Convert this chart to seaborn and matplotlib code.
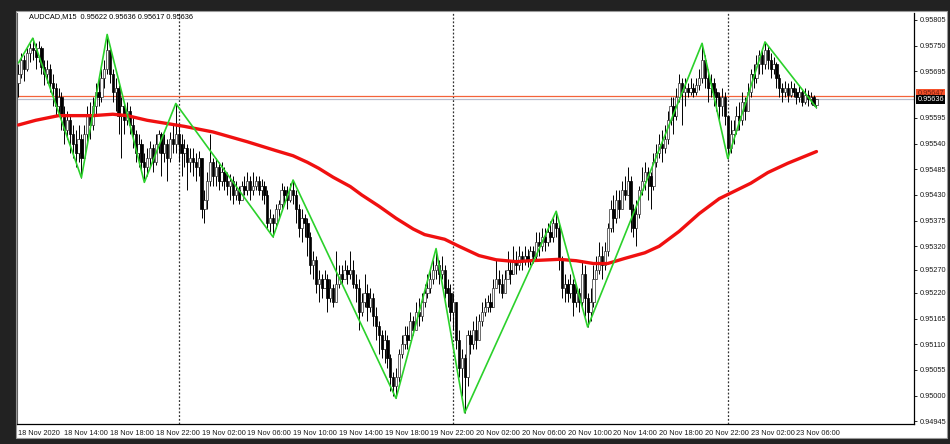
import numpy as np
import pandas as pd
import matplotlib
matplotlib.use("Agg")
import matplotlib.pyplot as plt
from matplotlib.patches import Rectangle
from matplotlib.transforms import blended_transform_factory
import seaborn as sns

# AUDCAD M15 bars, prices in points (1e-5). open of each bar = previous close
first_open = 95670
closes = [
    95690, 95720, 95700, 95735, 95745, 95740, 95725, 95745, 95705, 95690,
    95700, 95670, 95660, 95620, 95640, 95600, 95570, 95590, 95560, 95540,
    95520, 95550, 95510, 95560, 95600, 95580, 95620, 95650, 95640, 95680,
    95700, 95740, 95690, 95650, 95660, 95600, 95620, 95590, 95610, 95580,
    95560, 95520, 95540, 95500, 95490, 95510, 95530, 95500, 95540, 95560,
    95520, 95540, 95510, 95550, 95540, 95560, 95540, 95520, 95530, 95500,
    95510, 95500, 95490, 95510, 95400, 95420, 95460, 95500, 95470, 95490,
    95460, 95480, 95460, 95450, 95460, 95430, 95440, 95420, 95450, 95440,
    95460, 95440, 95450, 95460, 95440, 95450, 95430, 95370, 95380, 95370,
    95400, 95410, 95440, 95430, 95420, 95440, 95430, 95400, 95360, 95380,
    95370, 95340, 95280, 95290, 95240, 95250, 95230, 95250, 95210, 95230,
    95200, 95240, 95260, 95250, 95270, 95260, 95270, 95240, 95230, 95180,
    95200, 95220, 95190, 95210, 95170, 95150, 95130, 95100, 95120, 95080,
    95040, 95020, 95040, 95090, 95110, 95130, 95120, 95160, 95140, 95180,
    95170, 95200, 95220, 95230, 95250, 95270, 95280, 95260, 95270, 95230,
    95220, 95180, 95200, 95120, 95060, 95080, 95040, 95130, 95110, 95140,
    95120, 95160, 95180, 95190, 95200, 95190, 95230, 95250, 95240, 95220,
    95250, 95270, 95260, 95290, 95280, 95300, 95290, 95300, 95290, 95310,
    95300, 95330, 95320, 95340, 95330, 95350, 95340, 95370, 95360, 95290,
    95230, 95240, 95220, 95240, 95200, 95220, 95200, 95260, 95210, 95180,
    95200, 95250, 95270, 95300, 95280, 95310, 95360, 95400, 95380, 95420,
    95400, 95440, 95430, 95460, 95400, 95360, 95390, 95440, 95460, 95480,
    95470, 95450, 95500, 95520, 95540, 95530, 95550, 95590, 95620, 95600,
    95640, 95670, 95650, 95660, 95650, 95660, 95650, 95665, 95680, 95720,
    95680, 95660, 95670, 95650, 95640, 95620, 95640, 95600, 95530, 95560,
    95570, 95600, 95590, 95630, 95610, 95650, 95690, 95680, 95710, 95730,
    95710, 95740, 95720, 95700, 95710, 95680, 95660, 95650, 95660, 95645,
    95660, 95650, 95640, 95650, 95630, 95645, 95635, 95640, 95622, 95636,
]
highs = [
    95710, 95735, 95730, 95745, 95755, 95766, 95755, 95760, 95750, 95720,
    95720, 95710, 95690, 95670, 95660, 95650, 95620, 95610, 95600, 95580,
    95570, 95580, 95560, 95580, 95620, 95630, 95640, 95670, 95680, 95700,
    95720, 95774, 95750, 95700, 95680, 95665, 95640, 95630, 95630, 95620,
    95600, 95570, 95560, 95550, 95520, 95530, 95545, 95540, 95560, 95570,
    95565, 95560, 95550, 95565, 95580, 95626, 95580, 95560, 95550, 95540,
    95530, 95530, 95520, 95525, 95510, 95440, 95480, 95560, 95510, 95510,
    95500, 95500, 95490, 95480, 95475, 95470, 95460, 95450, 95460, 95470,
    95480, 95470, 95480, 95470, 95470, 95465, 95460, 95440, 95400, 95390,
    95410, 95420, 95455, 95450, 95450, 95455, 95462, 95440, 95410, 95400,
    95390, 95380, 95350, 95310, 95300, 95270, 95260, 95270, 95260, 95250,
    95240, 95310, 95280, 95280, 95290, 95280, 95310, 95290, 95260, 95250,
    95220, 95260, 95240, 95230, 95220, 95190, 95160, 95140, 95140, 95130,
    95090, 95050, 95060, 95100, 95130, 95150, 95150, 95180, 95170, 95200,
    95210, 95220, 95240, 95260, 95270, 95290, 95315, 95290, 95300, 95280,
    95250, 95240, 95220, 95200, 95140, 95100, 95090, 95140, 95140, 95160,
    95170, 95175, 95200, 95210, 95215, 95220, 95250, 95290, 95270, 95260,
    95270, 95310, 95290, 95320, 95310, 95320, 95310, 95320, 95315, 95320,
    95320, 95350, 95350, 95360, 95360, 95370, 95375, 95380, 95395, 95370,
    95300, 95260, 95250, 95260, 95250, 95240, 95230, 95290, 95280, 95220,
    95230, 95280, 95300, 95330, 95320, 95330, 95370, 95420, 95430, 95440,
    95440, 95460, 95470, 95490, 95470, 95410, 95420, 95450, 95490, 95500,
    95490, 95480, 95520, 95540, 95560, 95570, 95580, 95610, 95640, 95640,
    95660, 95690, 95680, 95680, 95670, 95680, 95670, 95680, 95700, 95755,
    95730, 95700, 95690, 95680, 95660, 95650, 95660, 95650, 95600, 95590,
    95590, 95620, 95630, 95650, 95640, 95670, 95700, 95710, 95730, 95740,
    95745, 95758, 95750, 95735, 95725, 95715, 95690, 95670, 95675, 95670,
    95675, 95670, 95660, 95665, 95655, 95660, 95655, 95650, 95645, 95636,
]
lows = [
    95640, 95680, 95675, 95695, 95715, 95720, 95700, 95715, 95690, 95665,
    95670, 95650, 95620, 95600, 95600, 95570, 95540, 95550, 95520, 95510,
    95490, 95500, 95467, 95500, 95540, 95550, 95570, 95600, 95620, 95630,
    95660, 95690, 95670, 95630, 95610, 95560, 95510, 95560, 95580, 95560,
    95530, 95500, 95490, 95480, 95457, 95470, 95490, 95480, 95495, 95520,
    95470, 95500, 95460, 95500, 95520, 95520, 95500, 95470, 95490, 95440,
    95480, 95470, 95460, 95470, 95380, 95370, 95400, 95450, 95450, 95450,
    95440, 95450, 95440, 95430, 95420, 95410, 95420, 95410, 95420, 95430,
    95430, 95420, 95430, 95440, 95430, 95420, 95410, 95360, 95350, 95340,
    95360, 95380, 95400, 95410, 95400, 95415, 95410, 95370, 95340, 95330,
    95340, 95300, 95260, 95250, 95220, 95200, 95210, 95230, 95180, 95200,
    95190, 95220, 95230, 95240, 95250, 95240, 95250, 95230, 95200, 95140,
    95170, 95190, 95160, 95180, 95150, 95120, 95090, 95080, 95070, 95060,
    95010, 95000, 94994, 95030, 95080, 95100, 95100, 95120, 95130, 95140,
    95150, 95160, 95190, 95210, 95220, 95240, 95250, 95240, 95250, 95210,
    95190, 95160, 95140, 95100, 95040, 95000, 94963, 95020, 95090, 95100,
    95100, 95120, 95150, 95170, 95180, 95180, 95200, 95230, 95220, 95210,
    95220, 95250, 95240, 95270, 95260, 95270, 95270, 95280, 95275, 95280,
    95285, 95290, 95300, 95310, 95310, 95320, 95330, 95330, 95340, 95270,
    95210, 95200, 95200, 95210, 95170, 95190, 95180, 95190, 95170, 95147,
    95160, 95190, 95250, 95260, 95250, 95270, 95300, 95350, 95350, 95370,
    95380, 95400, 95420, 95440, 95350, 95340, 95320, 95380, 95430, 95440,
    95420, 95400, 95440, 95490, 95510, 95500, 95520, 95540, 95580, 95560,
    95590, 95630, 95580, 95620, 95640, 95645, 95640, 95645, 95655, 95670,
    95660, 95630, 95640, 95620, 95610, 95590, 95600, 95580, 95508, 95520,
    95540, 95560, 95570, 95580, 95590, 95610, 95640, 95660, 95670, 95690,
    95690, 95700, 95700, 95680, 95690, 95660, 95640, 95630, 95640, 95630,
    95640, 95640, 95625, 95630, 95620, 95625, 95620, 95625, 95620, 95617,
]

# moving average (red), read at bar positions
ma_idx = [0, 6, 14, 26, 33, 38, 45, 52, 58, 68, 80, 90, 96, 101, 105, 110, 116,
          120, 126, 132, 138, 142, 149, 154, 161, 167, 174, 179, 189, 195, 201,
          206, 212, 219, 224, 231, 238, 245, 256, 262, 269, 279]
ma_vals = [0.95580, 0.95590, 0.95600, 0.95600, 0.95603, 0.95600, 0.95590, 0.95583,
           0.95577, 0.95565, 0.95544, 0.95525, 0.95514, 0.95500, 0.95487, 0.95468,
           0.95448, 0.95430, 0.95406, 0.95380, 0.95357, 0.95345, 0.95335, 0.95320,
           0.95300, 0.95291, 0.95287, 0.95289, 0.95292, 0.95289, 0.95283, 0.95283,
           0.95294, 0.95306, 0.95320, 0.95352, 0.95390, 0.95422, 0.95455, 0.95478,
           0.95498, 0.95523]

# zigzag pivots (green)
zz_idx = [0, 5, 22, 31, 44, 55, 89, 96, 132, 146, 156, 188, 199, 239, 248, 261, 279]
zz_vals = [0.95713, 0.95766, 0.95467, 0.95774, 0.95457, 0.95626, 0.95340, 0.95462,
           0.94994, 0.95315, 0.94963, 0.95395, 0.95147, 0.95755, 0.95508, 0.95758,
           0.95617]

day_breaks = [56, 152, 248]
x_tick_bars = list(range(0, 280, 16))
x_tick_labels = ["18 Nov 2020", "18 Nov 14:00", "18 Nov 18:00", "18 Nov 22:00",
                 "19 Nov 02:00", "19 Nov 06:00", "19 Nov 10:00", "19 Nov 14:00",
                 "19 Nov 18:00", "19 Nov 22:00", "20 Nov 02:00", "20 Nov 06:00",
                 "20 Nov 10:00", "20 Nov 14:00", "20 Nov 18:00", "20 Nov 22:00",
                 "23 Nov 02:00", "23 Nov 06:00"]
y_ticks = [0.95805, 0.95750, 0.95695, 0.95595, 0.95540, 0.95485, 0.95430, 0.95375,
           0.95320, 0.95270, 0.95220, 0.95165, 0.95110, 0.95055, 0.95000, 0.94945]
bid = 0.95636
ask = 0.95643

sns.set_style("white")
plt.rcParams["font.family"] = ["Liberation Sans Narrow", "Liberation Sans", "DejaVu Sans"]
FS = 5.3

df = pd.DataFrame({"close": closes, "high": highs, "low": lows}) / 1e5
df["open"] = [first_open / 1e5] + list(df["close"].iloc[:-1])
df["bar"] = np.arange(len(df))

W, H = 950, 444
fig = plt.figure(figsize=(W / 100, H / 100), dpi=100, facecolor="#222222")
fig.add_artist(Rectangle((16 / W, (H - 438) / H), 931 / W, 427 / H,
                         transform=fig.transFigure, facecolor="white",
                         edgecolor="#9a9a9a", lw=0.8, zorder=0))
ax = fig.add_axes([17 / W, (H - 424) / H, (914 - 17) / W, (424 - 13) / H])
ax.set_facecolor("white")

# day separators
for b in day_breaks:
    ax.axvline(b, color="#333333", lw=0.9, ls=(0, (1.5, 1.5)), zorder=1)

# bid / ask lines
ax.axhline(ask, color="#f4623a", lw=0.9, zorder=2)
ax.axhline(bid, color="#b9bccb", lw=0.9, zorder=2)

# candles
lo = np.minimum(df["low"], np.minimum(df["open"], df["close"]))
hi = np.maximum(df["high"], np.maximum(df["open"], df["close"]))
ax.vlines(df["bar"], lo, hi, color="black", lw=0.7, zorder=3)
up = df["close"] >= df["open"]
body_lo = np.minimum(df["open"], df["close"])
body_h = np.maximum((df["close"] - df["open"]).abs(), 0.000015)
ax.bar(df["bar"][up], body_h[up], bottom=body_lo[up], width=0.8,
       color="white", edgecolor="#303030", lw=0.5, zorder=4)
ax.bar(df["bar"][~up], body_h[~up], bottom=body_lo[~up], width=0.8,
       color="black", edgecolor="black", lw=0.5, zorder=4)

sns.lineplot(x=ma_idx, y=ma_vals, ax=ax, color="#f01010", lw=2.4, zorder=5)
sns.lineplot(x=zz_idx, y=zz_vals, ax=ax, color="#2bd12b", lw=1.2, zorder=6)

ax.set_xlim(-0.52, 313.1)
ax.set_ylim(0.94939, 0.95820)

ax.set_xticks(x_tick_bars)
ax.set_xticklabels(x_tick_labels, ha="left", fontsize=FS, color="#1a1a1a")
ax.yaxis.tick_right()
ax.set_yticks(y_ticks)
ax.set_yticklabels([f"{v:.5f}" for v in y_ticks], fontsize=FS, color="#1a1a1a")
ax.tick_params(axis="x", length=3, width=0.6, pad=1.5, color="black", direction="out")
ax.tick_params(axis="y", length=2.5, width=0.6, pad=2, color="black", direction="out")
ax.set_xlabel("")
ax.set_ylabel("")

for side in ["right", "bottom"]:
    ax.spines[side].set_color("black")
    ax.spines[side].set_linewidth(0.9)
ax.spines["left"].set_color("#606060")
ax.spines["left"].set_linewidth(0.8)
ax.spines["top"].set_visible(False)

# price labels on the scale
tr = blended_transform_factory(ax.transAxes, ax.transData)
ax.text(1.004, ask + 0.00004, "0.95647", transform=tr, fontsize=FS, color="#7a2010",
        va="center", ha="left", clip_on=False, zorder=7,
        bbox=dict(boxstyle="square,pad=0.15", fc="#f4502a", ec="none"))
ax.text(1.004, bid - 0.00002, "0.95636", transform=tr, fontsize=FS, color="white",
        va="center", ha="left", clip_on=False, zorder=8,
        bbox=dict(boxstyle="square,pad=0.15", fc="black", ec="none"))

fig.text(29 / W, 1 - 17 / H, "AUDCAD,M15  0.95622 0.95636 0.95617 0.95636",
         fontsize=FS, color="black", va="center", ha="left")

fig.savefig("out.png", dpi=100, facecolor=fig.get_facecolor())
